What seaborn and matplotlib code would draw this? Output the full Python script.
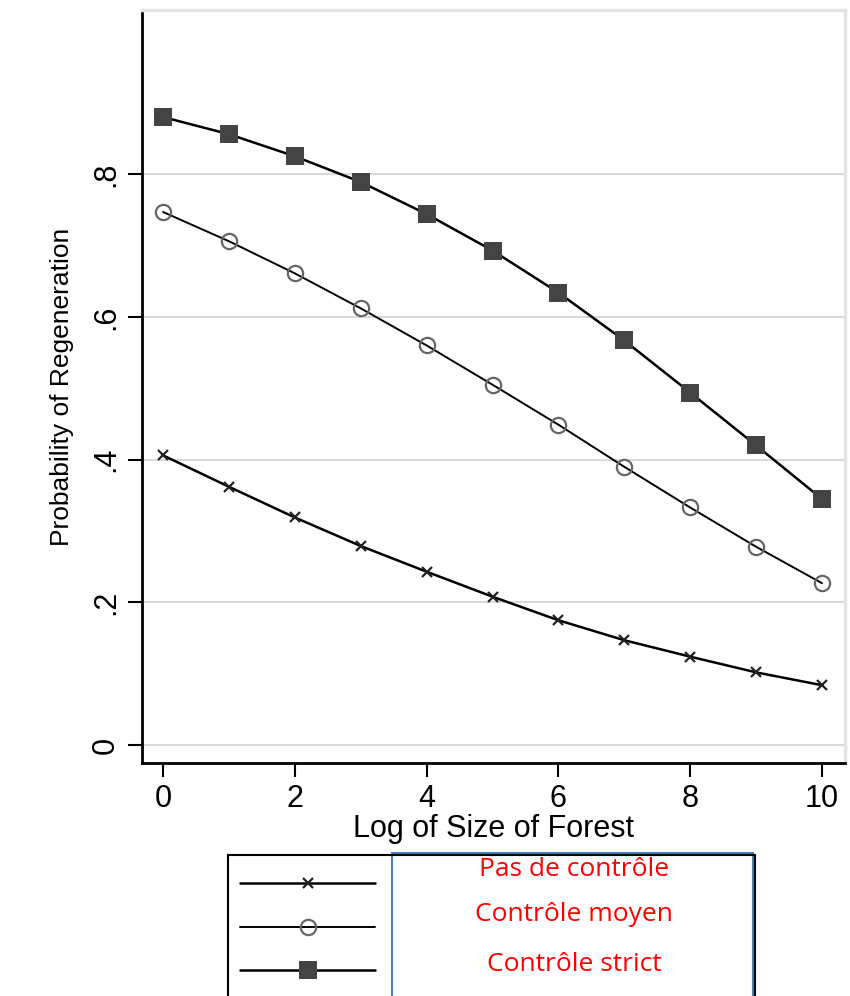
import numpy as np
import pandas as pd
import seaborn as sns
import matplotlib.pyplot as plt
from matplotlib.patches import Rectangle
from matplotlib.lines import Line2D

log_size = list(range(11))
pas_controle = [0.406, 0.362, 0.319, 0.279, 0.243, 0.208, 0.175, 0.147, 0.124, 0.102, 0.084]
controle_moyen = [0.747, 0.706, 0.661, 0.612, 0.560, 0.505, 0.449, 0.390, 0.333, 0.278, 0.227]
controle_strict = [0.880, 0.856, 0.825, 0.789, 0.744, 0.693, 0.634, 0.567, 0.494, 0.420, 0.345]
series_names = ['Pas de contrôle', 'Contrôle moyen', 'Contrôle strict']
y_ticks = [0, 0.2, 0.4, 0.6, 0.8]
y_tick_labels = ['0', '.2', '.4', '.6', '.8']
x_ticks = [0, 2, 4, 6, 8, 10]


def main():
    sns.set_style("white", rc={'text.color': 'black', 'axes.labelcolor': 'black',
                               'xtick.color': 'black', 'ytick.color': 'black'})
    plt.rcParams['font.family'] = ['Liberation Sans', 'DejaVu Sans']

    df = pd.DataFrame({
        'x': log_size * 3,
        'y': pas_controle + controle_moyen + controle_strict,
        'series': np.repeat(series_names, len(log_size)),
    })

    fig = plt.figure(figsize=(8.5, 9.96), dpi=100)
    ax = fig.add_axes([142 / 850, 1 - 763 / 996, (845 - 142) / 850, (763 - 10) / 996])

    styles = {
        'Pas de contrôle': dict(marker='x', markersize=7, markeredgewidth=1.6,
                                markeredgecolor='#222222', markerfacecolor='#222222', linewidth=1.8),
        'Contrôle moyen': dict(marker='o', markersize=11, markeredgewidth=1.6,
                               markeredgecolor='#666666', markerfacecolor='none', linewidth=1.4),
        'Contrôle strict': dict(marker='s', markersize=13, markeredgewidth=0,
                                markerfacecolor='#444444', linewidth=1.8),
    }
    for name in series_names:
        sub = df[df['series'] == name]
        sns.lineplot(data=sub, x='x', y='y', ax=ax, color='black', legend=False, **styles[name])

    ax.set_xlim(-0.32, 10.35)
    ax.set_ylim(-0.025, 1.03)
    ax.set_yticks(y_ticks)
    ax.set_yticklabels(y_tick_labels, rotation=90, va='center', fontsize=22)
    ax.set_xticks(x_ticks)
    ax.set_xticklabels([str(t) for t in x_ticks], fontsize=22)
    ax.tick_params(axis='both', which='both', length=10, width=1.5, color='black',
                   labelcolor='black', direction='out', left=True, bottom=True, pad=5)
    ax.yaxis.grid(True, color='#d9d9d9', linewidth=1.5)
    ax.xaxis.grid(False)
    ax.set_axisbelow(True)
    ax.set_xlabel('Log of Size of Forest', fontsize=22, labelpad=0, color='black')
    ax.set_ylabel('Probability of Regeneration', fontsize=19, labelpad=12, color='black')
    for side in ['left', 'bottom']:
        ax.spines[side].set_color('black')
        ax.spines[side].set_linewidth(2)
    for side in ['top', 'right']:
        ax.spines[side].set_color('#e3e3e3')
        ax.spines[side].set_linewidth(2.5)

    # legend box
    lax = fig.add_axes([228 / 850, 0, (755 - 228) / 850, (996 - 855) / 996])
    lax.set_xlim(0, 527)
    lax.set_ylim(141, 0)
    lax.set_xticks([])
    lax.set_yticks([])
    for side in lax.spines.values():
        side.set_color('black')
        side.set_linewidth(1.5)
    lax.spines['bottom'].set_visible(False)
    handle_y = [28, 72, 115]
    for name, hy in zip(series_names, handle_y):
        lax.add_line(Line2D([12, 80, 147], [hy, hy, hy], color='black',
                            markevery=[1], **styles[name]))
    lax.add_patch(Rectangle((164, -2), 361, 146, facecolor='white', edgecolor='#4a7ebb',
                            linewidth=1.5, clip_on=False))
    text_y = [14, 59, 109]
    for name, ty in zip(series_names, text_y):
        lax.text(346, ty, name, color='red', fontsize=19, ha='center', va='center',
                 family=['Open Sans', 'DejaVu Sans'])

    fig.savefig('out.png', dpi=100)


if __name__ == '__main__':
    main()
